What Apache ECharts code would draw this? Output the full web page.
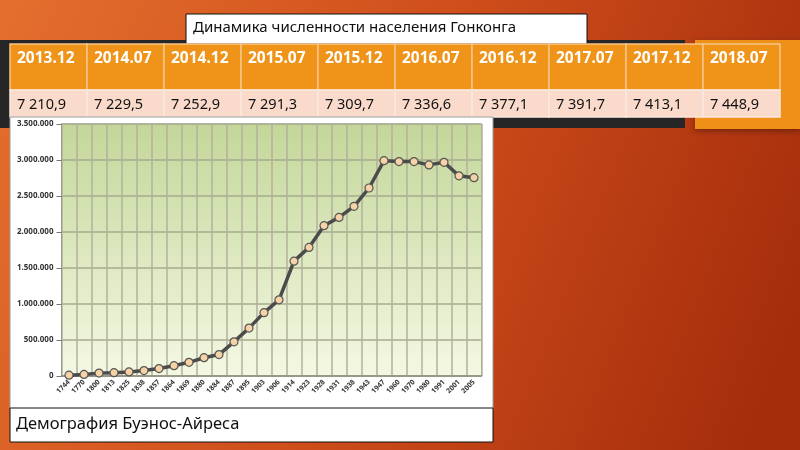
<!DOCTYPE html>
<html><head><meta charset="utf-8">
<script src="https://cdn.jsdelivr.net/npm/echarts@6/dist/echarts.min.js"></script>
<style>html,body{margin:0;padding:0;}#c{width:800px;height:450px;}</style>
</head><body><div id="c"></div>
<script>
// ---- data ----
const titleText = 'Динамика численности населения Гонконга';
const captionText = 'Демография Буэнос-Айреса';
const tableDates = ['2013.12','2014.07','2014.12','2015.07','2015.12','2016.07','2016.12','2017.07','2017.12','2018.07'];
const tableValues = ['7 210,9','7 229,5','7 252,9','7 291,3','7 309,7','7 336,6','7 377,1','7 391,7','7 413,1','7 448,9'];
const years = ['1744','1770','1800','1813','1825','1838','1857','1864','1869','1880','1884','1887','1895','1903','1906','1914','1923','1928','1931','1938','1943','1947','1960','1970','1980','1991','2001','2005'];
const population = [11600,22500,40000,46000,57000,75000,103000,143000,190000,254000,298000,475000,665000,880000,1058000,1595000,1786000,2088000,2203000,2356000,2611000,2990000,2978000,2978000,2932000,2968000,2780000,2755000];
const yTicks = [0,500000,1000000,1500000,2000000,2500000,3000000,3500000];

const FONT = '"Noto Sans", "DejaVu Sans", sans-serif';
const graphics = [];
// slide background
graphics.push({type:'rect', z:-20, shape:{x:0,y:0,width:800,height:450},
  style:{fill:{type:'linear',x:0,y:0,x2:1,y2:0.7,colorStops:[{offset:0,color:'#e46f2e'},{offset:0.5,color:'#cf4e1b'},{offset:1,color:'#a52d0c'}]}}});
// dark band
graphics.push({type:'rect', z:-19, shape:{x:0,y:40,width:685,height:88}, style:{fill:'#262626'}});
// right orange block
graphics.push({type:'rect', z:-19, shape:{x:695,y:40,width:105,height:89},
  style:{fill:'#ef9119', shadowBlur:6, shadowColor:'rgba(0,0,0,0.35)', shadowOffsetY:2}});
// title box
graphics.push({type:'rect', z:-18, shape:{x:186,y:14,width:401,height:30}, style:{fill:'#ffffff', stroke:'#111', lineWidth:1}});
graphics.push({type:'text', z:-17, style:{x:193,y:28,text:titleText,font:'15px '+FONT,fill:'#111',textVerticalAlign:'middle'}});
// table
const tx0 = 10, colW = 77, hy = 44, hh = 46, dh = 27;
tableDates.forEach((d,i)=>{
  const x = tx0 + i*colW;
  graphics.push({type:'rect', z:-16, shape:{x:x,y:hy,width:colW,height:hh}, style:{fill:'#ef9419', stroke:'#f7c488', lineWidth:1.5}});
  graphics.push({type:'rect', z:-16, shape:{x:x,y:hy+hh,width:colW,height:dh}, style:{fill:'#fadbcb', stroke:'#fbe8dd', lineWidth:1.5}});
  graphics.push({type:'text', z:-15, style:{x:x+7,y:59,text:d,font:'bold 15.5px '+FONT,fill:'#ffffff',textVerticalAlign:'middle'}});
  graphics.push({type:'text', z:-15, style:{x:x+7,y:105,text:tableValues[i],font:'14.5px '+FONT,fill:'#111',textVerticalAlign:'middle'}});
});
// chart panel
graphics.push({type:'rect', z:-14, shape:{x:10,y:117,width:483,height:292}, style:{fill:'#ffffff', stroke:'#9a9a9a', lineWidth:1}});
// caption box
graphics.push({type:'rect', z:-14, shape:{x:10,y:408,width:483,height:34}, style:{fill:'#ffffff', stroke:'#111', lineWidth:1}});
graphics.push({type:'text', z:-13, style:{x:16,y:424,text:captionText,font:'16.5px '+FONT,fill:'#111',textVerticalAlign:'middle'}});

const chart = echarts.init(document.getElementById('c'), null, {renderer:'canvas'});
chart.setOption({
  animation:false,
  graphic: graphics,
  grid:{left:61.5, top:124, width:420, height:252, show:true,
    backgroundColor:{type:'linear',x:0,y:0,x2:0,y2:1,colorStops:[{offset:0,color:'#c3d799'},{offset:1,color:'#f4f8e3'}]},
    borderColor:'#b5b5a5', borderWidth:1},
  xAxis:{type:'category', data:years, boundaryGap:true,
    axisLine:{show:true, lineStyle:{color:'#8f8f85', width:1.5}},
    axisTick:{show:false},
    splitLine:{show:true, interval:0, lineStyle:{color:'#b3b09c', width:1.5}},
    axisLabel:{interval:0, rotate:45, fontSize:7, fontWeight:'bold', color:'#333', fontFamily:FONT, margin:5}},
  yAxis:{type:'value', min:0, max:3500000, interval:500000,
    axisLine:{show:true, lineStyle:{color:'#9a9a90'}},
    axisTick:{show:true, length:5, lineStyle:{color:'#777'}},
    splitLine:{show:true, lineStyle:{color:'#a6ab8c', width:1.5}},
    axisLabel:{fontSize:8, fontWeight:'bold', color:'#333', fontFamily:FONT, margin:8,
      formatter:v=>String(v).replace(/\B(?=(\d{3})+(?!\d))/g,'.')}},
  series:[{type:'line', data:population, symbol:'circle', symbolSize:8,
    lineStyle:{color:'#4b4b4b', width:3.5},
    itemStyle:{color:'#f5d3a6', borderColor:'#555', borderWidth:1.2}, z:3}]
});
</script></body></html>
